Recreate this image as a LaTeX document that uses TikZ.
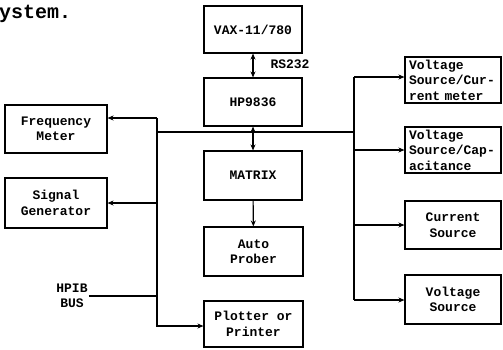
\documentclass[tikz,border=0pt]{standalone}
\usepackage{fontspec}
\setmonofont{Liberation Mono}
\usetikzlibrary{arrows.meta}
\begin{document}
\begin{tikzpicture}[x=1pt,y=-1pt,
  txt/.style={font=\ttfamily\bfseries\fontsize{13}{15.5}\selectfont,align=center,inner sep=1pt},
  box/.style={txt,draw,line width=1.1pt},
  wire/.style={line width=1.1pt},
  arr/.style={wire,-{Stealth[length=6pt,width=5pt]}}]
\useasboundingbox (0,0) rectangle (503,349);
%caption fragment
\node[anchor=base west,inner sep=0pt,font=\ttfamily\bfseries\fontsize{20}{24}\selectfont] (cap) at (-1,18) {ystem.};
%center column
\node[box,minimum width=98pt,minimum height=47pt] (vax) at (253,29.5) {VAX-11/780};
\node[box,minimum width=98pt,minimum height=48pt] (hp) at (253,102) {HP9836};
\node[box,minimum width=98pt,minimum height=49pt] (mat) at (253,175.5) {MATRIX};
\node[box,minimum width=99pt,minimum height=49pt] (prob) at (253.5,251.5) {Auto\\Prober};
\node[box,minimum width=99pt,minimum height=46pt] (plot) at (253.5,324) {Plotter or\\Printer};
\node[txt] (rs) at (290,64) {RS232};
%left column
\node[box,minimum width=102pt,minimum height=48pt] (freq) at (56,129) {Frequency\\Meter};
\node[box,minimum width=102pt,minimum height=50pt] (sig) at (56,203) {Signal\\Generator};
\node[txt] (hpib) at (72,296) {HPIB\\BUS};
%right column
\node[box,minimum width=96pt,minimum height=46pt,text width=88pt,align=left] (r1) at (453,80) {Voltage\\Source/Cur-\\rent meter};
\node[box,minimum width=96pt,minimum height=46pt,text width=88pt,align=left] (r2) at (453,150) {Voltage\\Source/Cap-\\acitance};
\node[box,minimum width=96pt,minimum height=48pt] (r3) at (453,225) {Current\\Source};
\node[box,minimum width=96pt,minimum height=49pt] (r4) at (453,299.5) {Voltage\\Source};
%bus points
\coordinate (ltop) at (157,118);
\coordinate (lbot) at (157,326);
\coordinate (hbus) at (157,132);
\coordinate (rbus) at (354,132);
\coordinate (rtop) at (354,77);
\coordinate (rbot) at (354,300);
%center links
\draw[wire,{Stealth[length=6pt,width=5pt]}-{Stealth[length=6pt,width=5pt]}] (vax) -- (hp);
\draw[wire,{Stealth[length=6pt,width=5pt]}-{Stealth[length=6pt,width=5pt]}] (hp) -- (mat);
\draw[arr] (mat) -- (prob);
%left bus
\draw[arr] (ltop) -- (ltop -| freq.east);
\draw[arr] (sig.east -| ltop) -- (sig.east);
\draw[arr] (ltop) -- (lbot) -- (lbot -| plot.west);
\draw[wire] (hpib.east) -- (hpib.east -| ltop);
\draw[wire] (hbus) -- (rbus);
%right bus
\draw[wire] (rtop) -- (rbot);
\draw[arr] (rtop) -- (rtop -| r1.west);
\draw[arr] (r2.west -| rtop) -- (r2.west);
\draw[arr] (r3.west -| rtop) -- (r3.west);
\draw[arr] (rbot) -- (rbot -| r4.west);
\end{tikzpicture}
\end{document}
